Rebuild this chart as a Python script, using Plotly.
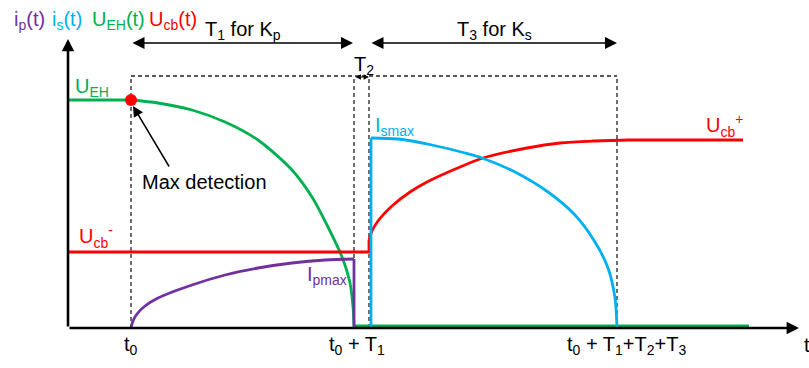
import plotly.graph_objects as go

# cores do esquema
purple = '#7030A0'
blue = '#00B0F0'
green = '#00B050'
red = '#FF0000'
fonte = 'Liberation Sans, Arial, sans-serif'

# instantes (unidades arbitrárias)
t0 = 63
T1 = 223
T2 = 15
T3 = 248
t1 = t0 + T1
t2 = t1 + T2
t3 = t2 + T3
y_box = 252

# U_EH(t)
ueh_flat_x = [0, 63]
ueh_flat_y = [228, 228]
ueh_x = [63, 90, 124, 157, 190, 224, 244, 260, 274, 282, 285, 286]
ueh_y = [228, 225, 218, 206, 188, 158, 131, 101, 71, 45, 21, 2]
ueh_low_x = [286, 681]
ueh_low_y = [2, 2]

# i_p(t)
ip_x = [63, 65, 69, 77, 90, 124, 157, 190, 224, 257, 286]
ip_y = [0, 7, 14, 22, 30, 43, 53, 60, 65, 68, 69]
ip_drop_x = [286, 286]
ip_drop_y = [69, 0]

# U_cb(t)
ucb_neg_x = [0, 301, 301]
ucb_neg_y = [76, 76, 88]
ucb_x = [301, 304, 310, 324, 342, 359, 392, 415, 459, 492, 525, 560]
ucb_y = [88, 97, 107, 122, 136, 146, 161, 170, 180, 185, 187, 188]
ucb_pos_x = [560, 675]
ucb_pos_y = [188, 188]

# i_s(t)
is_step_x = [303, 303]
is_step_y = [0, 190]
is_x = [303, 330, 364, 397, 414, 447, 480, 507, 527, 540, 547, 549]
is_y = [190, 189, 183, 175, 170, 156, 136, 113, 86, 60, 30, 0]

fig = go.Figure()


def linha(x, y, cor, shape='linear'):
    fig.add_trace(go.Scatter(x=x, y=y, mode='lines', line=dict(color=cor, width=2.8, shape=shape, smoothing=0.8),
                             hoverinfo='skip', showlegend=False))


# linhas tracejadas
dash = dict(color='#222222', width=1.3, dash='4px,3px')
for xv in [t0, t1, t2, t3]:
    fig.add_shape(type='line', x0=xv, x1=xv, y0=0, y1=y_box, line=dash, layer='below')
fig.add_shape(type='line', x0=t0, x1=t3, y0=y_box, y1=y_box, line=dash, layer='below')

linha(ueh_flat_x, ueh_flat_y, green)
linha(ueh_x, ueh_y, green, 'spline')
linha(ueh_low_x, ueh_low_y, green)
linha(ucb_neg_x, ucb_neg_y, red)
linha(ucb_x, ucb_y, red, 'spline')
linha(ucb_pos_x, ucb_pos_y, red)
linha(ip_x, ip_y, purple, 'spline')
linha(ip_drop_x, ip_drop_y, purple)
linha(is_step_x, is_step_y, blue)
linha(is_x, is_y, blue, 'spline')

# ponto de detecção do máximo
fig.add_trace(go.Scatter(x=[t0], y=[ueh_flat_y[1]], mode='markers', marker=dict(color=red, size=12),
                         hoverinfo='skip', showlegend=False))


def seta(x, y, ax, ay, w, size, dupla=False):
    fig.add_annotation(x=x, y=y, ax=ax, ay=ay, xref='x', yref='y', axref='x', ayref='y', text='',
                       showarrow=True, arrowhead=2, arrowsize=size, arrowwidth=w, arrowcolor='black',
                       startarrowhead=2, startarrowsize=size, arrowside='end+start' if dupla else 'end',
                       standoff=0, startstandoff=0)


# eixos
seta(0, 289, 0, 0, 2.6, 0.95)
seta(731, 0, 0, 0, 2.6, 0.95)
# intervalos
seta(t1 - 1, 285, t0, 285, 1.5, 1.6, True)
seta(t3, 285, t2 + 1, 285, 1.5, 1.6, True)
seta(t2, 251, t1, 251, 1.2, 0.9, True)
# Max detection
seta(65, 222, 102, 160, 1.5, 1.4)


def texto(x, y, s, cor='black', xanchor='left', xshift=0):
    fig.add_annotation(x=x, y=y, xref='x', yref='y', text=s, showarrow=False, xanchor=xanchor,
                       yanchor='middle', xshift=xshift, font=dict(family=fonte, size=20, color=cor))


texto(-56, 308, 'i<sub>p</sub>(t)', purple)
texto(-18, 308, 'i<sub>s</sub>(t)', blue)
texto(22, 308, 'U<sub>EH</sub>(t)', green)
texto(79, 308, 'U<sub>cb</sub>(t)', red)
texto(135, 298, 'T<sub>1</sub> for K<sub>p</sub>')
texto(387, 298, 'T<sub>3</sub> for K<sub>s</sub>')
texto(284, 263, 'T<sub>2</sub>')
texto(5, 241, 'U<sub>EH</sub>', green)
texto(9, 92, 'U<sub>cb</sub><sup>-</sup>', red)
texto(636, 203, 'U<sub>cb</sub><sup>+</sup>', red)
texto(305, 202, 'I<sub>smax</sub>', blue)
texto(281, 53, 'I<sub>pmax</sub>', purple, 'right')
texto(72, 146, 'Max detection')
texto(t0, -17, 't<sub>0</sub>', xanchor='center')
texto(t1, -17, 't<sub>0</sub> + T<sub>1</sub>', xanchor='center', xshift=3)
texto(t3, -17, 't<sub>0</sub> + T<sub>1</sub>+T<sub>2</sub>+T<sub>3</sub>', xanchor='center', xshift=9)
texto(734, -17, 't')

fig.update_layout(
    width=809, height=368,
    margin=dict(l=0, r=0, t=0, b=0),
    paper_bgcolor='white', plot_bgcolor='white',
    xaxis=dict(range=[-68, 741], visible=False, fixedrange=True),
    yaxis=dict(range=[-40, 328], visible=False, fixedrange=True),
    showlegend=False,
)

fig.write_html('out.html', config={'displayModeBar': False},
               post_script="document.body.style.margin='0';")
